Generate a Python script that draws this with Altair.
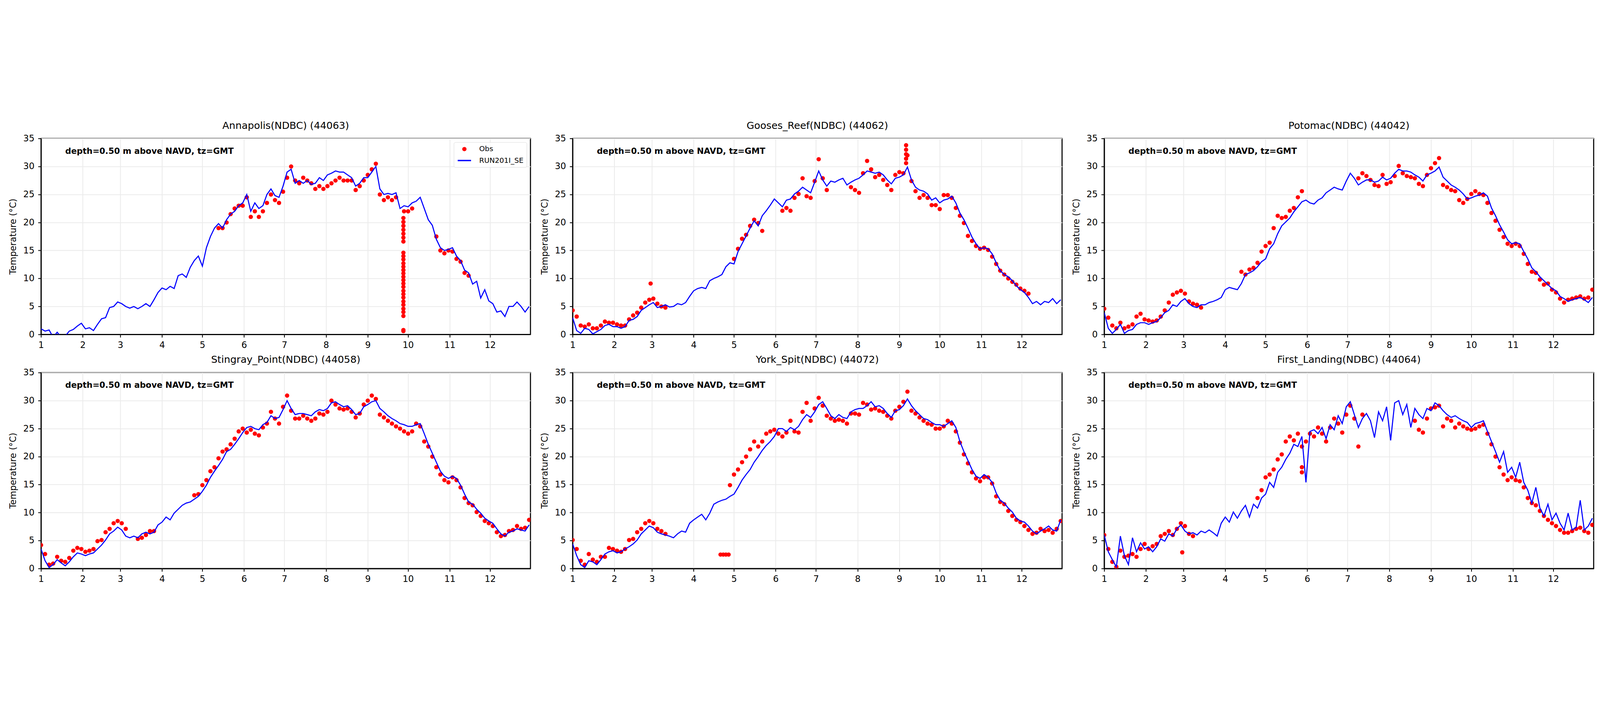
import altair as alt
import pandas as pd

# ---------------- shared axis / grid definitions ----------------
STEP_DAYS = 3
MONTH_STARTS = [0, 31, 59, 90, 120, 151, 181, 212, 243, 273, 304, 334]
MONTH_LABELS = ['1', '2', '3', '4', '5', '6', '7', '8', '9', '10', '11', '12']
X_MAX = 364
Y_TICKS = [0, 5, 10, 15, 20, 25, 30, 35]
SERIES = ["Obs", "RUN201I_SE"]
NOTE = "depth=0.50 m above NAVD, tz=GMT"
NOTE_DAY = 18
NOTE_TEMP = 32.7

TITLES = [
    "Annapolis(NDBC) (44063)",
    "Gooses_Reef(NDBC) (44062)",
    "Potomac(NDBC) (44042)",
    "Stingray_Point(NDBC) (44058)",
    "York_Spit(NDBC) (44072)",
    "First_Landing(NDBC) (44064)",
]

N = None

# ---------------- Panel 1: Annapolis ----------------
P1_MODEL = [
    1.0, 0.6, 0.8, -0.5, 0.4, -0.5, -0.3, 0.6, 0.9, 1.5, 2.0,
    1.0, 1.2, 0.7, 1.8, 2.8, 3.0, 4.8, 5.0, 5.8,
    5.5, 5.0, 4.7, 5.0, 4.6, 5.0, 5.5, 5.0, 6.2, 7.5,
    8.3, 8.0, 8.6, 8.2, 10.5, 10.8, 10.2, 12.0, 13.2, 14.0,
    12.2, 15.5, 17.5, 19.0, 19.8, 19.0, 20.5, 21.5, 22.0, 23.0, 23.5,
    25.0, 22.0, 23.5, 22.5, 23.0, 25.0, 26.0, 24.8, 24.5, 26.5,
    29.0, 29.5, 27.0, 27.5, 27.0, 27.5, 26.8, 27.0, 28.0, 27.5,
    28.5, 28.8, 29.2, 29.0, 29.0, 28.5, 28.0, 26.5, 27.0, 28.0,
    28.0, 29.0, 30.0, 26.0, 25.0, 25.2, 25.0, 25.3, 22.5, 23.0,
    22.8, 23.5, 23.8, 24.5, 22.5, 20.5, 19.5, 17.0, 15.5, 15.0, 15.2,
    15.5, 14.0, 13.2, 11.5, 11.0, 9.0, 9.5, 6.5, 8.0, 6.0,
    5.5, 4.0, 4.2, 3.2, 5.0, 5.0, 5.8, 5.0, 4.0, 5.0,
]
P1_OBS = [
    N, N, N, N, N, N, N, N, N, N, N,
    N, N, N, N, N, N, N, N, N,
    N, N, N, N, N, N, N, N, N, N,
    N, N, N, N, N, N, N, N, N, N,
    N, N, N, N, 19.0, 19.0, 20.0, 21.5, 22.5, 23.0, 23.0,
    24.5, 21.0, 22.0, 21.0, 22.0, 23.5, 25.0, 24.0, 23.5, 25.5,
    28.0, 30.0, 27.5, 27.0, 28.0, 27.5, 27.0, 26.0, 26.5, 26.0,
    26.5, 27.0, 27.5, 28.0, 27.5, 27.5, 27.5, 25.8, 26.5, 27.5,
    28.5, 29.5, 30.5, 25.0, 24.0, 24.5, 24.0, 24.5, N, 22.0,
    22.0, 22.5, N, N, N, N, N, 17.5, 15.0, 14.5, 15.0,
    14.8, 13.5, 13.0, 11.0, 10.5, N, N, N, N, N,
    N, N, N, N, N, N, N, N, N, N,
]
P1_EXTRA_DAY = [269.5] * 28
P1_EXTRA_VAL = [0.6, 0.8, 3.3, 4.0, 4.6, 5.3, 5.9, 6.6, 7.2, 7.8, 8.5, 9.1, 9.7, 10.3,
                10.9, 11.5, 12.1, 12.7, 13.4, 14.0, 14.6, 16.6, 17.3, 18.0, 18.7, 19.4, 20.1, 20.8]

# ---------------- Panel 2: Gooses_Reef ----------------
P2_MODEL = [
    3.0, 0.7, 0.2, 1.1, 0.9, 0.1, 0.5, 0.9, 1.6, 1.8, 1.4,
    1.4, 1.1, 1.4, 2.5, 2.7, 3.2, 4.3, 4.8, 5.3,
    5.7, 4.8, 5.0, 5.3, 4.9, 5.0, 5.5, 5.3, 5.7, 6.8,
    7.8, 8.2, 8.4, 8.2, 9.6, 10.0, 10.3, 10.7, 12.1, 12.8,
    12.6, 14.8, 16.2, 17.6, 19.0, 20.3, 19.4, 21.2, 22.1, 23.1, 24.2,
    23.5, 22.8, 24.0, 24.2, 25.1, 25.6, 26.3, 25.8, 25.3, 27.2,
    29.2, 27.6, 26.5, 27.4, 27.2, 27.6, 27.9, 26.7, 27.2, 27.6,
    27.9, 28.5, 29.2, 29.0, 28.8, 29.0, 28.5, 27.6, 26.9, 27.9,
    28.1, 28.5, 29.9, 27.6, 26.3, 25.8, 25.6, 25.1, 24.0, 24.4,
    23.5, 24.0, 24.2, 24.7, 23.5, 21.7, 20.5, 19.0, 17.4, 16.2, 15.3,
    15.5, 15.3, 14.4, 12.8, 11.4, 10.7, 10.3, 9.6, 8.7, 8.0,
    7.5, 6.6, 5.5, 5.9, 5.3, 5.9, 5.7, 6.4, 5.5, 6.2,
]
P2_OBS = [
    4.3, 3.2, 1.6, 1.4, 1.8, 1.1, 1.1, 1.6, 2.3, 2.1, 2.1,
    1.8, 1.6, 1.6, 2.7, 3.4, 3.9, 4.8, 5.7, 6.2,
    6.4, 5.5, 5.0, 4.8, N, N, N, N, N, N,
    N, N, N, N, N, N, N, N, N, N,
    13.5, 15.3, 17.1, 17.8, 19.4, 20.5, 19.9, 18.5, N, N, N,
    N, 22.1, 22.6, 22.1, 24.4, 25.1, 27.9, 24.7, 24.4, 27.4,
    31.3, 27.9, 25.8, N, N, N, N, N, 26.3, 25.8,
    25.3, 28.8, 31.0, 29.5, 28.1, 28.5, 27.6, 26.7, 25.8, 28.5,
    29.0, 28.8, 32.0, 27.4, 25.6, 24.4, 24.9, 24.4, 23.1, 23.1,
    22.4, 24.9, 24.9, 24.4, 22.6, 21.2, 19.9, 17.6, 16.7, 15.8, 15.3,
    15.5, 15.1, 13.9, 12.6, 11.4, 10.7, 10.0, 9.4, 8.9, 8.2,
    7.8, 7.3, N, N, N, N, N, N, N, N,
]
P2_EXTRA_DAY = [58, 248, 248, 248, 248, 248]
P2_EXTRA_VAL = [9.1, 30.6, 31.4, 32.2, 33.0, 33.8]

# ---------------- Panel 3: Potomac ----------------
P3_MODEL = [
    3.9, 1.1, 0.2, 0.9, 1.8, 0.2, 0.7, 0.9, 1.8, 2.1, 2.1,
    1.8, 2.1, 2.3, 3.0, 3.9, 4.3, 5.3, 5.0, 5.9,
    6.4, 5.5, 5.0, 4.8, 5.3, 5.3, 5.7, 5.9, 6.2, 6.6,
    8.0, 8.4, 8.2, 8.0, 9.1, 10.7, 11.0, 11.4, 12.1, 13.0,
    13.5, 15.3, 16.2, 18.0, 19.4, 20.1, 20.8, 21.9, 22.8, 23.7, 24.0,
    23.5, 23.3, 24.0, 24.4, 25.3, 25.8, 26.3, 26.0, 25.8, 27.4,
    28.8, 27.9, 26.7, 27.2, 27.6, 27.6, 27.2, 27.4, 28.1, 27.6,
    27.9, 28.8, 29.5, 29.2, 29.2, 29.0, 28.5, 28.1, 27.4, 28.5,
    28.8, 29.2, 29.9, 28.1, 27.4, 26.7, 26.3, 25.8, 25.1, 24.2,
    24.4, 24.7, 24.9, 25.3, 24.7, 22.6, 21.2, 19.6, 18.3, 16.9, 16.2,
    16.4, 16.2, 14.8, 13.5, 11.9, 11.2, 10.3, 9.6, 8.9, 8.2,
    7.8, 6.8, 6.4, 5.9, 6.2, 6.4, 6.6, 6.2, 5.7, 6.6,
]
P3_OBS = [
    4.6, 3.0, 1.6, 1.1, 2.1, 1.1, 1.4, 1.8, 3.2, 3.7, 2.7,
    2.5, 2.3, 2.5, 3.2, 4.3, 5.7, 7.1, 7.5, 7.8,
    7.3, 5.9, 5.5, 5.3, 4.8, N, N, N, N, N,
    N, N, N, N, 11.2, 10.7, 11.6, 11.9, 12.8, 14.8,
    15.8, 16.4, 19.0, 21.2, 20.8, 21.0, 22.1, 22.6, 24.5, 25.6, N,
    N, N, N, N, N, N, N, N, N, N,
    N, N, 27.9, 28.8, 28.3, 27.6, 26.7, 26.5, 28.5, 26.9,
    27.2, 28.3, 30.1, 28.8, 28.3, 28.1, 27.9, 26.9, 26.5, 28.5,
    29.7, 30.6, 31.5, 26.7, 26.3, 25.8, 25.6, 24.0, 23.5, 24.2,
    25.1, 25.6, 25.1, 24.9, 23.5, 21.7, 20.3, 18.7, 17.4, 16.2, 15.8,
    16.2, 15.8, 14.4, 12.6, 11.2, 11.0, 9.8, 8.9, 9.1, 8.0,
    7.5, 6.4, 5.7, 6.2, 6.4, 6.6, 6.8, 6.4, 6.6, 8.0,
]
P3_EXTRA_DAY = []
P3_EXTRA_VAL = []

# ---------------- Panel 4: Stingray_Point ----------------
P4_MODEL = [
    3.5, 1.4, 0.2, 0.7, 1.6, 1.0, 0.5, 1.2, 2.1, 2.8, 2.6,
    2.3, 2.6, 2.8, 3.5, 4.2, 5.1, 6.2, 6.7, 7.4,
    6.9, 5.8, 5.5, 5.8, 5.5, 6.2, 6.5, 6.2, 6.5, 7.8,
    8.3, 9.2, 8.7, 9.9, 10.6, 11.3, 11.7, 11.9, 12.4, 12.9,
    13.8, 14.9, 16.3, 17.4, 18.4, 19.5, 20.9, 21.3, 22.2, 23.2, 24.3,
    25.2, 25.4, 25.0, 24.8, 25.7, 26.1, 27.3, 26.8, 27.0, 28.4,
    30.0, 28.6, 27.5, 27.7, 27.7, 27.5, 27.3, 28.0, 28.4, 28.2,
    28.6, 29.6, 29.8, 29.3, 28.9, 29.1, 28.4, 27.5, 27.7, 28.9,
    29.3, 29.8, 30.0, 28.6, 28.0, 27.3, 26.8, 26.4, 25.9, 25.7,
    25.4, 25.4, 25.7, 25.9, 24.1, 22.2, 20.6, 19.0, 17.4, 16.5, 16.1,
    16.5, 16.1, 14.9, 13.3, 11.9, 11.5, 10.6, 9.9, 9.0, 8.5,
    8.1, 7.1, 6.2, 5.8, 6.5, 6.7, 7.1, 6.9, 6.7, 7.8,
]
P4_OBS = [
    4.2, 2.6, 0.7, 0.9, 2.1, 1.4, 1.2, 1.9, 3.2, 3.7, 3.5,
    3.0, 3.2, 3.5, 4.9, 5.1, 6.5, 7.1, 8.1, 8.5,
    8.1, 7.1, N, N, 5.3, 5.5, 6.0, 6.7, 6.7, N,
    N, N, N, N, N, N, N, N, 13.1, 13.3,
    14.9, 15.8, 17.4, 18.1, 19.7, 20.9, 21.3, 22.2, 23.2, 24.5, 25.0,
    24.3, 24.8, 24.1, 23.8, 25.2, 25.9, 28.0, 26.8, 25.9, 28.9,
    30.9, 28.2, 26.8, 26.8, 27.3, 26.8, 26.4, 26.8, 27.7, 27.5,
    28.0, 30.0, 29.3, 28.6, 28.4, 28.6, 28.0, 27.0, 27.7, 29.3,
    30.0, 30.9, 30.3, 27.5, 27.0, 26.4, 25.9, 25.4, 25.0, 24.5,
    24.1, 24.5, 25.9, 25.4, 22.7, 21.8, 20.0, 18.1, 16.8, 15.8, 15.4,
    16.3, 15.8, 14.5, 12.6, 11.7, 11.3, 10.1, 9.4, 8.5, 8.1,
    7.6, 6.5, 5.8, 6.0, 6.7, 6.9, 7.6, 7.1, 7.3, 8.7,
]
P4_EXTRA_DAY = []
P4_EXTRA_VAL = []

# ---------------- Panel 5: York_Spit ----------------
P5_MODEL = [
    4.4, 2.3, 0.7, 0.2, 1.4, 1.2, 0.7, 1.6, 2.6, 3.0, 3.2,
    2.8, 3.0, 3.5, 3.9, 4.4, 5.1, 6.2, 6.9, 7.6,
    7.3, 6.5, 6.2, 6.0, 5.8, 5.5, 6.2, 6.7, 6.5, 8.1,
    8.7, 9.2, 9.7, 8.7, 9.9, 11.5, 11.9, 12.2, 12.4, 12.9,
    13.3, 14.5, 15.8, 16.8, 17.7, 19.0, 20.0, 21.1, 22.0, 22.7, 23.6,
    25.0, 25.0, 24.5, 25.2, 24.8, 25.4, 26.6, 27.5, 27.0, 28.0,
    29.3, 29.8, 28.6, 27.3, 26.8, 27.5, 27.0, 26.8, 28.0, 28.4,
    28.6, 28.6, 29.1, 29.8, 28.9, 29.1, 28.6, 27.7, 27.0, 28.2,
    28.4, 29.1, 30.3, 29.1, 28.2, 27.5, 26.8, 26.6, 26.1, 25.7,
    25.7, 25.4, 25.9, 26.4, 25.2, 22.7, 20.9, 19.3, 17.7, 16.5, 16.1,
    16.8, 16.3, 15.4, 13.5, 12.2, 11.7, 10.8, 10.1, 9.0, 8.5,
    8.3, 7.6, 6.7, 6.2, 6.7, 7.1, 7.6, 6.9, 6.7, 8.7,
]
P5_OBS = [
    5.1, 3.5, 1.4, 0.7, 2.6, 1.6, 1.2, 2.1, 2.1, 3.7, 3.5,
    3.2, 3.0, 3.5, 5.1, 5.3, 6.5, 7.1, 8.1, 8.5,
    8.1, 7.1, 6.7, 6.2, N, N, N, N, N, N,
    N, N, N, N, N, N, N, N, N, 14.9,
    16.8, 17.7, 19.0, 20.0, 21.3, 22.7, 21.8, 22.7, 24.1, 24.5, 24.8,
    24.1, 23.6, 24.3, 26.4, 24.5, 24.3, 28.0, 29.6, 26.4, 28.6,
    30.5, 29.1, 27.3, 26.8, 26.4, 26.6, 26.4, 25.9, 27.7, 27.7,
    27.5, 29.6, 29.3, 28.4, 28.6, 28.2, 28.0, 27.3, 26.8, 28.2,
    28.9, 29.8, 31.6, 28.2, 27.7, 27.0, 26.4, 25.9, 25.7, 25.0,
    25.0, 25.4, 26.4, 25.9, 24.5, 22.5, 20.4, 18.8, 17.2, 16.1, 15.6,
    16.3, 16.3, 15.2, 12.9, 11.9, 11.5, 10.3, 9.4, 8.7, 8.3,
    7.6, 6.9, 6.2, 6.4, 7.1, 6.7, 6.9, 6.4, 7.1, 8.5,
]
P5_EXTRA_DAY = [110, 112, 114, 116]
P5_EXTRA_VAL = [2.5, 2.5, 2.5, 2.5]

# ---------------- Panel 6: First_Landing ----------------
P6_MODEL = [
    6.0, 3.0, 1.6, 0.3, 5.8, 2.3, 0.7, 5.5, 3.0, 4.6, 3.5,
    3.9, 3.0, 3.9, 5.3, 4.9, 6.2, 5.8, 7.1, 7.8,
    6.7, 6.2, 6.4, 6.0, 6.7, 6.4, 6.9, 6.4, 5.8, 8.1,
    9.2, 8.3, 10.1, 9.0, 10.3, 11.3, 9.2, 11.5, 10.8, 12.6,
    13.3, 15.4, 14.5, 17.2, 18.1, 19.5, 20.6, 22.2, 21.8, 23.6, 15.4,
    24.5, 24.8, 24.1, 25.2, 23.2, 25.7, 24.8, 27.3, 25.9, 28.9,
    29.8, 27.5, 25.2, 26.8, 27.7, 26.4, 23.4, 28.0, 26.4, 28.9,
    22.9, 29.6, 30.0, 27.5, 29.3, 25.2, 28.6, 27.5, 26.8, 28.6,
    28.2, 29.6, 29.1, 28.2, 27.5, 27.0, 27.3, 26.8, 26.4, 26.1,
    25.2, 25.9, 26.1, 26.4, 24.5, 22.7, 20.9, 19.0, 20.9, 17.2, 18.1,
    16.3, 19.0, 15.4, 14.0, 11.7, 14.5, 10.8, 9.4, 11.5, 8.7,
    9.9, 8.1, 6.9, 9.9, 6.9, 7.4, 12.2, 6.9, 7.6, 9.0,
]
P6_OBS = [
    6.0, 3.5, 1.2, 0.3, 3.2, 2.1, 2.3, 2.6, 2.1, 3.5, 4.4,
    3.5, 4.0, 4.4, 5.8, 6.2, 6.7, 6.0, 7.1, 8.1,
    7.6, 6.2, 5.8, N, N, N, N, N, N, N,
    N, N, N, N, N, N, N, N, 12.6, 14.0,
    16.3, 16.8, 17.7, 19.5, 20.4, 22.7, 23.6, 22.9, 24.1, 21.8, 22.7,
    24.1, 23.6, 25.2, 24.1, 22.7, 25.2, 26.8, 25.9, 24.3, 27.5,
    29.1, 26.8, 21.8, 27.5, N, N, N, N, N, N,
    N, N, N, N, N, N, 26.4, 24.8, 24.3, 26.8,
    28.6, 28.8, 29.1, 25.4, 26.8, 26.4, 25.2, 25.9, 25.4, 25.0,
    24.8, 25.0, 25.4, 25.7, 24.1, 22.2, 20.0, 18.1, 16.8, 15.8, 16.3,
    15.8, 15.6, 14.5, 12.6, 11.7, 11.3, 10.3, 9.4, 8.7, 8.1,
    7.6, 6.9, 6.4, 6.4, 6.7, 7.1, 7.3, 6.7, 6.4, 7.8,
]
P6_EXTRA_DAY = [58, 147, 147]
P6_EXTRA_VAL = [2.9, 18.1, 17.2]

PANELS = [
    (TITLES[0], P1_MODEL, P1_OBS, P1_EXTRA_DAY, P1_EXTRA_VAL),
    (TITLES[1], P2_MODEL, P2_OBS, P2_EXTRA_DAY, P2_EXTRA_VAL),
    (TITLES[2], P3_MODEL, P3_OBS, P3_EXTRA_DAY, P3_EXTRA_VAL),
    (TITLES[3], P4_MODEL, P4_OBS, P4_EXTRA_DAY, P4_EXTRA_VAL),
    (TITLES[4], P5_MODEL, P5_OBS, P5_EXTRA_DAY, P5_EXTRA_VAL),
    (TITLES[5], P6_MODEL, P6_OBS, P6_EXTRA_DAY, P6_EXTRA_VAL),
]

PANEL_W = 1833
PANEL_H = 734
FONT = "DejaVu Sans"
RED = "#ff0000"
BLUE = "#0000ff"
DOT = 260

label_expr = f"{MONTH_LABELS}[indexof({MONTH_STARTS}, datum.value)]"


def make_panel(title, model, obs, ex_days, ex_vals, show_legend):
    mdf = pd.DataFrame({"day": [STEP_DAYS * k for k in range(len(model))], "temp": model})
    odays = [STEP_DAYS * k for k, v in enumerate(obs) if v is not None] + list(ex_days)
    ovals = [v for v in obs if v is not None] + list(ex_vals)
    odf = pd.DataFrame({"day": odays, "temp": ovals, "series": ["Obs"] * len(odays)})
    ndf = pd.DataFrame({"day": [NOTE_DAY], "temp": [NOTE_TEMP], "label": [NOTE]})

    x = alt.X("day:Q", scale=alt.Scale(domain=[0, X_MAX], nice=False, zero=False),
              axis=alt.Axis(values=MONTH_STARTS, labelExpr=label_expr, title=None))
    y = alt.Y("temp:Q", scale=alt.Scale(domain=[0, 35], nice=False),
              axis=alt.Axis(values=Y_TICKS, title="Temperature (°C)"))

    if show_legend:
        leg = alt.Legend(
            title=None, orient="top-right", offset=14, padding=12,
            rowPadding=2, cornerRadius=6, strokeColor="#cccccc",
            fillColor="rgba(255,255,255,0.8)",
            labelFont=FONT, labelFontSize=27, labelColor="black",
            labelOffset=28, labelLimit=600,
        )
        enc = dict(
            color=alt.Color("series:N", scale=alt.Scale(domain=SERIES, range=[RED, BLUE]), legend=leg),
            stroke=alt.Stroke("series:N", scale=alt.Scale(domain=SERIES, range=[RED, BLUE]), legend=leg),
            shape=alt.Shape("series:N", scale=alt.Scale(domain=SERIES, range=["circle", "stroke"]), legend=leg),
            size=alt.Size("series:N", scale=alt.Scale(domain=SERIES, range=[DOT, 2500]), legend=leg),
            strokeWidth=alt.StrokeWidth("series:N", scale=alt.Scale(domain=SERIES, range=[0, 5]), legend=leg),
        )
        pts = alt.Chart(odf).mark_point(filled=True, opacity=1, clip=True).encode(x=x, y=y, **enc)
    else:
        pts = alt.Chart(odf).mark_point(filled=True, opacity=1, clip=True, size=DOT, shape="circle",
                                        color=RED, strokeWidth=0).encode(x=x, y=y)

    line = alt.Chart(mdf).mark_line(color=BLUE, strokeWidth=4, clip=True).encode(x=x, y=y)
    note = alt.Chart(ndf).mark_text(
        align="left", baseline="middle", font=FONT, fontSize=31, fontWeight="bold", color="black"
    ).encode(x=x, y=y, text="label:N")

    return alt.layer(pts, line, note).properties(
        width=PANEL_W, height=PANEL_H,
        title=alt.TitleParams(title, font=FONT, fontSize=37, fontWeight="normal",
                              color="black", offset=12, anchor="middle"),
    )


panels = [make_panel(*p, show_legend=(i == 0)) for i, p in enumerate(PANELS)]

chart = (
    alt.concat(*panels, columns=3, spacing={"row": 16, "column": 34})
    .resolve_scale(color="independent", stroke="independent", shape="independent",
                   size="independent", strokeWidth="independent")
    .resolve_legend(color="independent", stroke="independent", shape="independent",
                    size="independent", strokeWidth="independent")
    .properties(padding={"left": 20, "top": 28, "right": 10, "bottom": 10}, background="white")
    .configure_view(stroke="black", strokeWidth=4, fill="white")
    .configure_axis(
        domainColor="black", domainWidth=4, tickColor="black", tickWidth=3, tickSize=11,
        labelFont=FONT, labelFontSize=33, labelColor="black",
        titleFont=FONT, titleFontSize=33, titleFontWeight="normal", titleColor="black",
        gridColor="#ebebeb", gridWidth=3, labelFlush=False, labelOverlap=False,
    )
    .configure_axisY(labelPadding=14, titlePadding=20)
    .configure_axisX(labelPadding=13)
)

chart.save("out.html", embed_options={"renderer": "svg", "actions": False})
